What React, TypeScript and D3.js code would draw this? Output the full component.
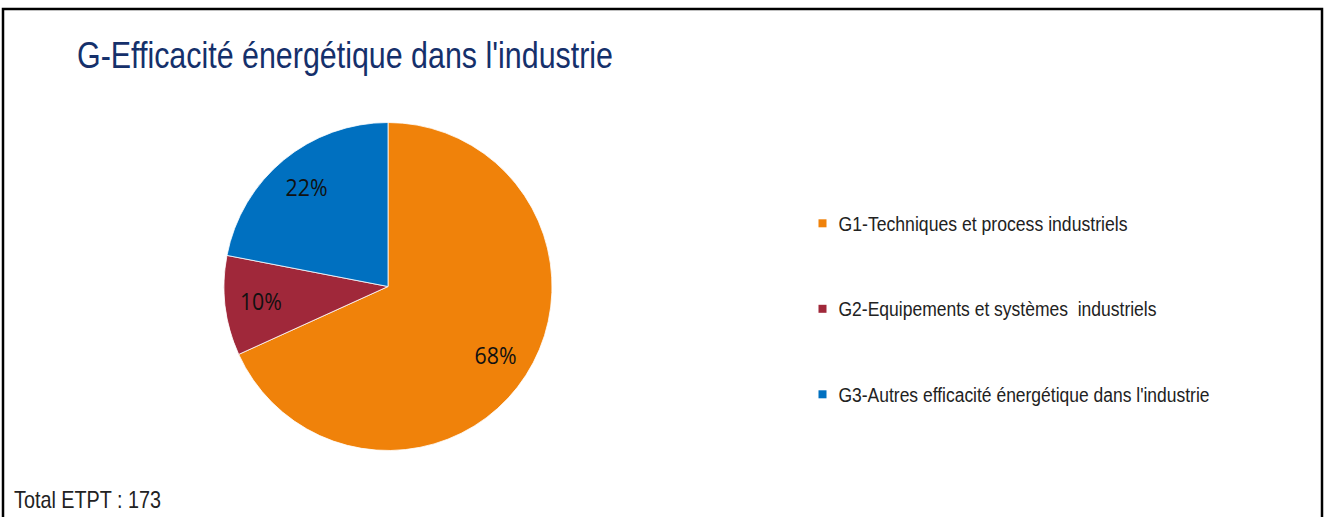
import React from "react";
import * as d3 from "d3";

const title = "G-Efficacité énergétique dans l'industrie";
const categories = [
  "G1-Techniques et process industriels",
  "G2-Equipements et systèmes  industriels",
  "G3-Autres efficacité énergétique dans l'industrie",
];
const values = [118, 17, 38];
const percentLabels = ["68%", "10%", "22%"];
const colors = ["#F0820A", "#A0283A", "#0070C0"];
const totalLabel = "Total ETPT : 173";

const W = 1325;
const H = 517;
const cx = 388;
const cy = 286.5;
const R = 164;
const labelR = 128;

const narrow = "'Liberation Sans', Arial, sans-serif";

const legendWidths = [289, 318, 371];

export default function App() {
  const pie = d3
    .pie<number>()
    .sort(null)
    .value((d) => d)
    .startAngle(0)
    .endAngle(2 * Math.PI);
  const arcs = pie(values);
  const arc = d3.arc<d3.PieArcDatum<number>>().innerRadius(0).outerRadius(R);
  const labelArc = d3
    .arc<d3.PieArcDatum<number>>()
    .innerRadius(labelR)
    .outerRadius(labelR);

  const legendY = d3
    .scalePoint<string>()
    .domain(categories)
    .range([223.3, 394.3]);

  return (
    <svg
      width={W}
      height={H}
      style={{ position: "absolute", left: 0, top: 0, display: "block", background: "#fff" }}
    >
      <rect x={0} y={0} width={W} height={H} fill="#fff" />
      <rect x={3} y={9} width={1319} height={700} fill="none" stroke="#000" strokeWidth={2.5} />
      <text
        x={77}
        y={68}
        fontFamily={narrow}
        fontSize={36}
        fill="#15306B"
        textLength={536}
        lengthAdjust="spacingAndGlyphs"
      >
        {title}
      </text>
      <g transform={`translate(${cx},${cy})`}>
        {arcs.map((a, i) => (
          <path key={i} d={arc(a) || ""} fill={colors[i]} stroke="#fff" strokeWidth={0.8} />
        ))}
        {arcs.map((a, i) => {
          const [lx, ly] = labelArc.centroid(a);
          return (
            <text
              key={"l" + i}
              x={lx}
              y={ly + 8.5}
              textAnchor="middle"
              fontFamily="'Open Sans', Lato, sans-serif"
              fontSize={23.5}
              fill="#111"
              textLength={42}
              lengthAdjust="spacingAndGlyphs"
            >
              {percentLabels[i]}
            </text>
          );
        })}
      </g>
      {categories.map((c, i) => {
        const y = legendY(c) as number;
        return (
          <g key={"lg" + i}>
            <rect x={818.5} y={y - 4} width={8} height={8} fill={colors[i]} />
            <text
              x={838.5}
              y={y + 7.6}
              fontFamily={narrow}
              fontSize={20}
              fill="#222"
              style={{ whiteSpace: "pre" }}
              textLength={legendWidths[i]}
              lengthAdjust="spacingAndGlyphs"
            >
              {c}
            </text>
          </g>
        );
      })}
      <text
        x={14}
        y={508}
        fontFamily={narrow}
        fontSize={24}
        fill="#222"
        textLength={147}
        lengthAdjust="spacingAndGlyphs"
      >
        {totalLabel}
      </text>
    </svg>
  );
}
